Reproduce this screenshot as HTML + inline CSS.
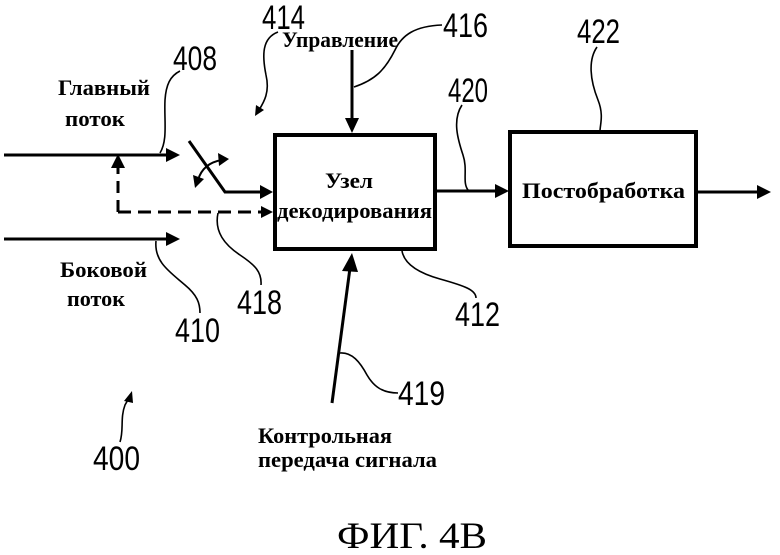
<!DOCTYPE html>
<html><head><meta charset="utf-8"><style>
html,body{margin:0;padding:0;background:#fff;}
svg{display:block;}
.lbl{font-family:"Liberation Serif","Noto Serif CJK SC",serif;font-weight:bold;font-size:22px;fill:#000;}
.num{font-family:"Liberation Sans",sans-serif;font-size:34px;fill:#000;}
.ld{fill:none;stroke:#000;stroke-width:1.6;}
</style></head><body>
<svg width="780" height="555" viewBox="0 0 780 555" xmlns="http://www.w3.org/2000/svg">
<g stroke="#000" fill="none" stroke-width="3">
<line x1="4" y1="155" x2="168" y2="155"/>
<line x1="4" y1="239" x2="168" y2="239"/>
<path d="M118,212 L118,166" stroke-dasharray="12 7"/>
<path d="M118,212 L262,212" stroke-dasharray="13 7"/>
<polyline points="189,141 225,192 262,192"/>
<path d="M198,180 Q203,163 222,160" stroke-width="2"/>
<rect x="275" y="135" width="160" height="114" stroke-width="4"/>
<rect x="510" y="132" width="186" height="114" stroke-width="4"/>
<line x1="437" y1="191" x2="496" y2="191"/>
<line x1="698" y1="192" x2="757" y2="192"/>
<line x1="352" y1="50" x2="352" y2="120"/>
<line x1="332" y1="403" x2="350" y2="268"/>
</g>
<g fill="#000">
<polygon points="180,155 166,148 166,162"/>
<polygon points="180,239 166,232 166,246"/>
<polygon points="118,154 111,168 125,168"/>
<polygon points="273,212 261,206 261,218"/>
<polygon points="273,192 260,185 260,199"/>
<polygon points="509,191 495,184 495,198"/>
<polygon points="771,192 757,185 757,199"/>
<polygon points="352,133 345,118 359,118"/>
<polygon points="352,253 342,271 358,272"/>
<polygon points="195,188 193,175 204,179"/>
<polygon points="229,159 218,153 219,166"/>
<polygon points="255,116 256,105 264,110"/>
<polygon points="132,391 124,401 133,403"/>
</g>
<path class="ld" d="M160,153 C168,140 164,120 165,100 C166,85 170,76 180,71"/>
<path class="ld" d="M278,32 C262,38 262,55 266,75 C270,92 264,102 259,110"/>
<path class="ld" d="M354,87 C375,80 385,70 395,50 C402,35 415,26 442,25"/>
<path class="ld" d="M462,105 C452,120 458,140 463,155 C468,170 462,182 468,190"/>
<path class="ld" d="M597,47 C588,60 590,80 598,100 C604,115 600,125 600,131"/>
<path class="ld" d="M218,213 C214,232 225,245 240,255 C255,265 262,272 261,285"/>
<path class="ld" d="M156,241 C154,262 170,272 185,285 C197,295 200,303 200,313"/>
<path class="ld" d="M402,251 C404,262 415,272 440,279 C465,286 476,290 476,298"/>
<path class="ld" d="M340,353 C352,352 360,362 367,375 C374,387 383,393 398,393"/>
<path class="ld" d="M120,442 C124,430 120,418 125,405 L129,398"/>
<text class="lbl" x="58" y="95" textLength="92" lengthAdjust="spacingAndGlyphs">Главный</text>
<text class="lbl" x="65" y="126" textLength="60" lengthAdjust="spacingAndGlyphs">поток</text>
<text class="lbl" x="60" y="277" textLength="87" lengthAdjust="spacingAndGlyphs">Боковой</text>
<text class="lbl" x="67" y="306" textLength="58" lengthAdjust="spacingAndGlyphs">поток</text>
<text class="lbl" x="282" y="47" textLength="116" lengthAdjust="spacingAndGlyphs">Управление</text>
<text class="lbl" x="325" y="188" textLength="48" lengthAdjust="spacingAndGlyphs">Узел</text>
<text class="lbl" x="277" y="218" textLength="155" lengthAdjust="spacingAndGlyphs">декодирования</text>
<text class="lbl" x="522" y="198" font-size="24" textLength="163" lengthAdjust="spacingAndGlyphs">Постобработка</text>
<text class="lbl" x="258" y="443" textLength="134" lengthAdjust="spacingAndGlyphs">Контрольная</text>
<text class="lbl" x="258" y="467" textLength="179" lengthAdjust="spacingAndGlyphs">передача сигнала</text>
<text x="337" y="548" font-family="Liberation Serif, serif" font-size="37" textLength="150" lengthAdjust="spacingAndGlyphs">ФИГ. 4B</text>
<text class="num" x="173" y="70" textLength="44" lengthAdjust="spacingAndGlyphs">408</text>
<text class="num" x="262" y="29" textLength="43" lengthAdjust="spacingAndGlyphs">414</text>
<text class="num" x="443" y="37" textLength="45" lengthAdjust="spacingAndGlyphs">416</text>
<text class="num" x="448" y="102" textLength="40" lengthAdjust="spacingAndGlyphs">420</text>
<text class="num" x="577" y="43" textLength="43" lengthAdjust="spacingAndGlyphs">422</text>
<text class="num" x="237" y="314" textLength="45" lengthAdjust="spacingAndGlyphs">418</text>
<text class="num" x="175" y="342" textLength="45" lengthAdjust="spacingAndGlyphs">410</text>
<text class="num" x="455" y="326" textLength="45" lengthAdjust="spacingAndGlyphs">412</text>
<text class="num" x="398" y="405" textLength="47" lengthAdjust="spacingAndGlyphs">419</text>
<text class="num" x="93" y="470" textLength="47" lengthAdjust="spacingAndGlyphs">400</text>
</svg>
</body></html>
